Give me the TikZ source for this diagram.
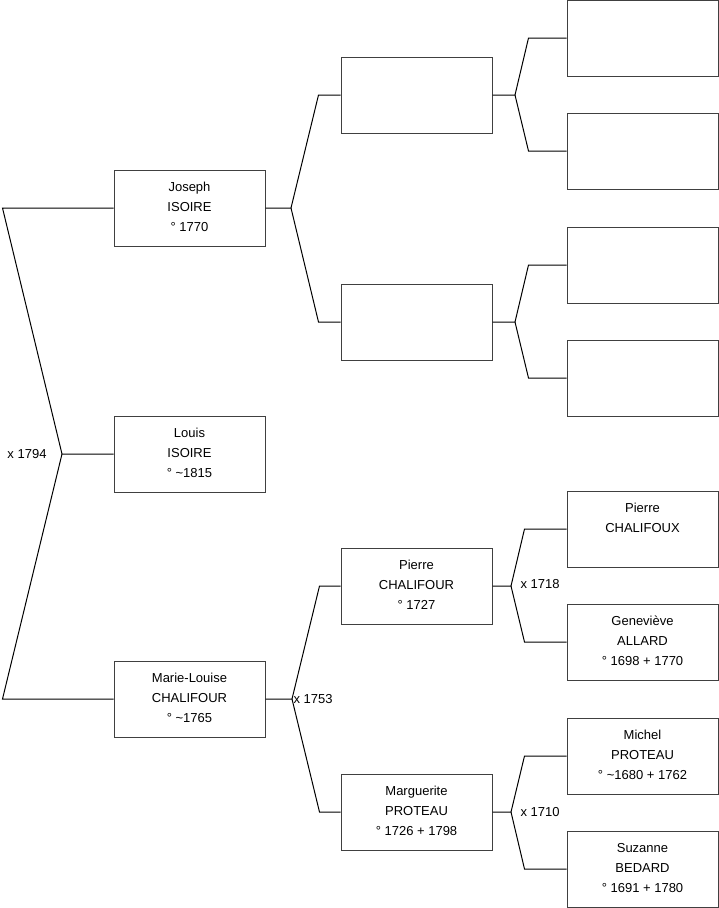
\documentclass[tikz,border=0pt]{standalone}
\usepackage{fontspec}
\setmainfont{Liberation Sans}
\newcommand{\fin}{\rule[-2pt]{0pt}{2pt}}
\begin{document}
\begin{tikzpicture}[x=1pt,y=-1pt,line width=1pt,
  pers/.style={draw=black!75,minimum width=151pt,minimum height=76pt,inner sep=0pt,align=center,font=\fontsize{13}{20}\selectfont},
  mariage/.style={inner sep=0pt,font=\fontsize{13}{16}\selectfont}]
  \useasboundingbox (0,0) rectangle (719,908);
  % generation 1 et 2
  \node[pers] (louis) at (189.5,454) {Louis\\ISOIRE\\° \textasciitilde1815\fin};
  \node[pers] (joseph) at (189.5,208) {Joseph\\ISOIRE\\° 1770\fin};
  \node[pers] (marie) at (189.5,699) {Marie-Louise\\CHALIFOUR\\° \textasciitilde1765\fin};
  % generation 3
  \node[pers] (pj) at (416.5,95) {};
  \node[pers] (mj) at (416.5,322) {};
  \node[pers] (pierre) at (416.5,586) {Pierre\\CHALIFOUR\\° 1727\fin};
  \node[pers] (marguerite) at (416.5,812) {Marguerite\\PROTEAU\\° 1726 + 1798\fin};
  % generation 4
  \node[pers] (ppj) at (642.5,38) {};
  \node[pers] (mpj) at (642.5,151) {};
  \node[pers] (pmj) at (642.5,265) {};
  \node[pers] (mmj) at (642.5,378) {};
  \node[pers] (pchalifoux) at (642.5,529) {Pierre\\CHALIFOUX\\\fin};
  \node[pers] (genevieve) at (642.5,642) {Geneviève\\ALLARD\\° 1698 + 1770\fin};
  \node[pers] (michel) at (642.5,756) {Michel\\PROTEAU\\° \textasciitilde1680 + 1762\fin};
  \node[pers] (suzanne) at (642.5,869) {Suzanne\\BEDARD\\° 1691 + 1780\fin};
  % fourches
  \coordinate (fl) at (62,454);
  \coordinate (fj) at (291,208);
  \coordinate (fm) at (292,699);
  \coordinate (fpj) at (515,95);
  \coordinate (fmj) at (515,322);
  \coordinate (fp) at (511,586);
  \coordinate (fg) at (511,812);
  \draw (louis.west) -- (fl) -- ([xshift=-111pt]joseph.west) -- (joseph.west);
  \draw (fl) -- ([xshift=-111pt]marie.west) -- (marie.west);
  \draw (joseph.east) -- (fj) -- ([xshift=-22pt]pj.west) -- (pj.west);
  \draw (fj) -- ([xshift=-22pt]mj.west) -- (mj.west);
  \draw (marie.east) -- (fm) -- ([xshift=-21pt]pierre.west) -- (pierre.west);
  \draw (fm) -- ([xshift=-21pt]marguerite.west) -- (marguerite.west);
  \draw (pj.east) -- (fpj) -- ([xshift=-38pt]ppj.west) -- (ppj.west);
  \draw (fpj) -- ([xshift=-38pt]mpj.west) -- (mpj.west);
  \draw (mj.east) -- (fmj) -- ([xshift=-38pt]pmj.west) -- (pmj.west);
  \draw (fmj) -- ([xshift=-38pt]mmj.west) -- (mmj.west);
  \draw (pierre.east) -- (fp) -- ([xshift=-42pt]pchalifoux.west) -- (pchalifoux.west);
  \draw (fp) -- ([xshift=-42pt]genevieve.west) -- (genevieve.west);
  \draw (marguerite.east) -- (fg) -- ([xshift=-42pt]michel.west) -- (michel.west);
  \draw (fg) -- ([xshift=-42pt]suzanne.west) -- (suzanne.west);
  % mariages
  \node[mariage,anchor=east] (m1794) at ([xshift=-15pt]fl) {x 1794};
  \node[mariage,anchor=west] (m1753) at ([xshift=1pt]fm) {x 1753};
  \node[mariage,anchor=west] (m1718) at ([xshift=9pt,yshift=2pt]fp) {x 1718};
  \node[mariage,anchor=west] (m1710) at ([xshift=9pt]fg) {x 1710};
\end{tikzpicture}
\end{document}
